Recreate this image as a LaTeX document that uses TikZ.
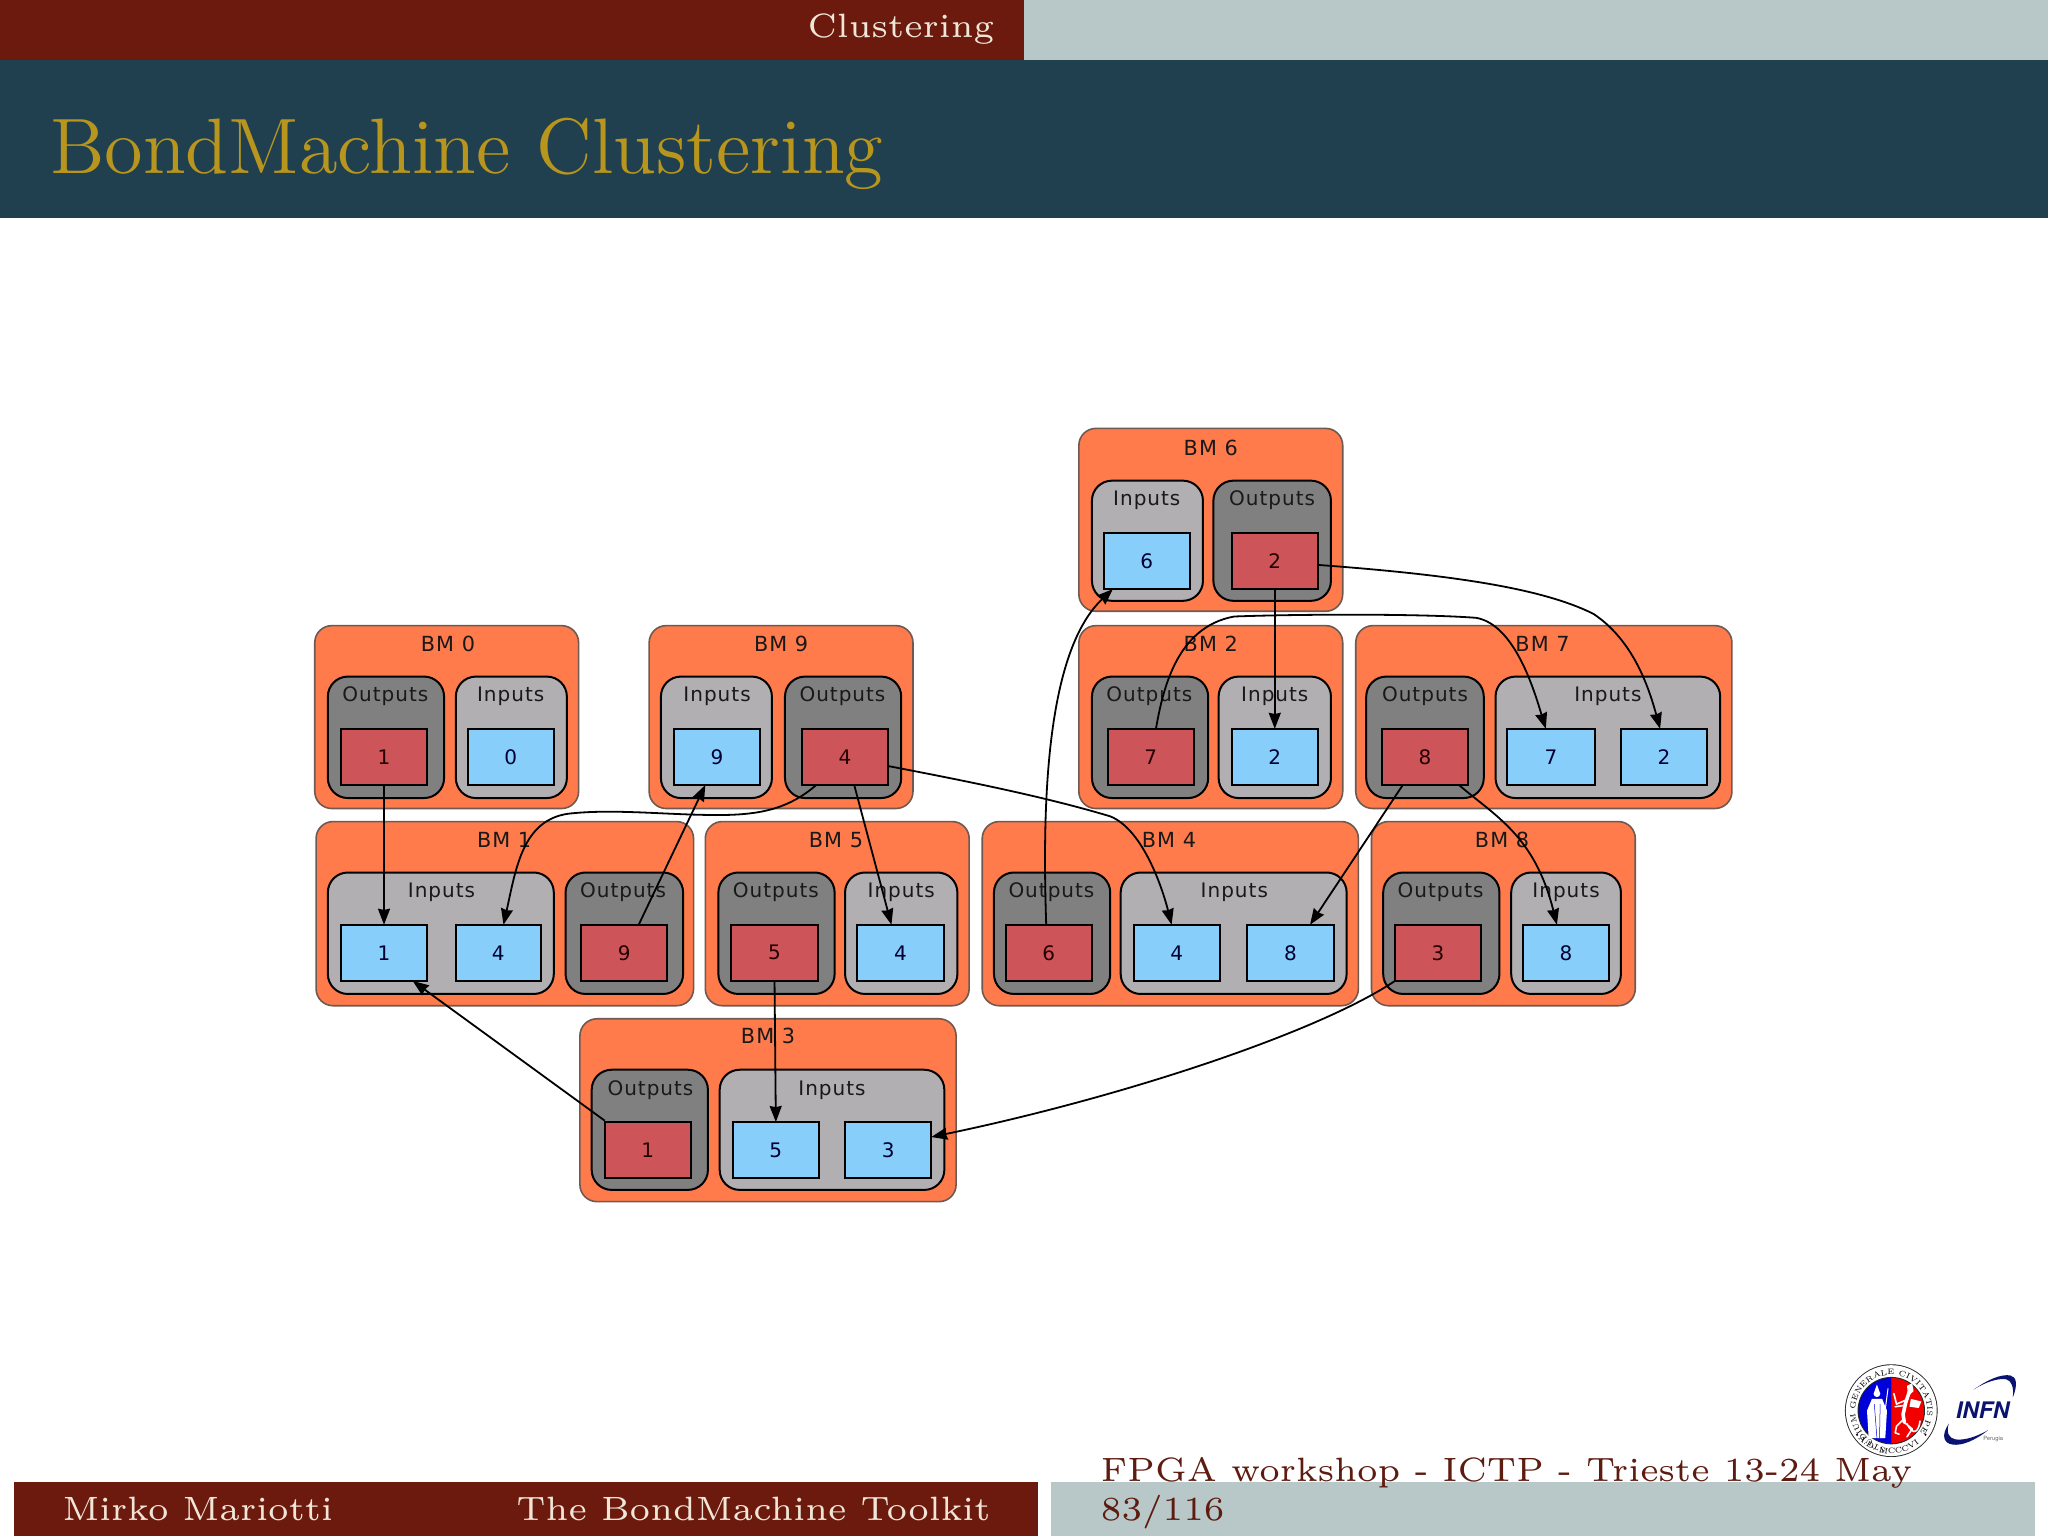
\documentclass[tikz,border=0pt]{standalone}
\usepackage{fontspec}
\usetikzlibrary{arrows.meta,calc,decorations.text}
\newfontfamily\dvs[LetterSpace=5]{DejaVu Sans}
\newfontfamily\dvn{DejaVu Sans}
\newfontfamily\heros{TeX Gyre Heros}
\definecolor{hdred}{HTML}{6D1A0E}
\definecolor{hdgrey}{HTML}{B8C7C8}
\definecolor{band}{HTML}{21404F}
\definecolor{gold}{HTML}{B8961E}
\definecolor{ftext}{HTML}{EFE6D8}
\definecolor{wine}{HTML}{5E1B10}
\definecolor{coralbg}{HTML}{FF7B4B}
\definecolor{coralln}{HTML}{6E5A50}
\definecolor{outp}{HTML}{808080}
\definecolor{inp}{HTML}{B1AFB1}
\definecolor{redbox}{HTML}{CD5458}
\definecolor{bluebox}{HTML}{87CEFA}
\definecolor{navy}{HTML}{0A1470}
\newcommand{\rb}[7]{%
  \pgfmathsetmacro\bxw{(#4-#2)*0.65306}\pgfmathsetmacro\bxh{(#5-#3)*0.65306}%
  \node[#6,minimum width=\bxw pt,minimum height=\bxh pt] (#1) at ({(#2+#4)/2},{(#3+#5)/2}) {#7};}
\tikzset{
  bmgroupbox/.style={draw=coralln,line width=0.8pt,fill=coralbg,rounded corners=8.5pt,inner sep=0pt,outer sep=0pt},
  outpanel/.style={draw=black,line width=1pt,fill=outp,rounded corners=10pt,inner sep=0pt,outer sep=0pt},
  inpanel/.style={draw=black,line width=1pt,fill=inp,rounded corners=10pt,inner sep=0pt,outer sep=0pt},
  rbox/.style={draw=black,line width=1pt,fill=redbox,inner sep=0pt,outer sep=0pt,font=\dvn\fontsize{10}{12}\selectfont,text=black!85!red},
  bbox/.style={draw=black,line width=1pt,fill=bluebox,inner sep=0pt,outer sep=0pt,font=\dvn\fontsize{10}{12}\selectfont,text=black!80!blue},
  bmtitle/.style={font=\dvs\fontsize{10.4}{12}\selectfont,inner sep=0pt,text=black!90},
  pantitle/.style={font=\dvs\fontsize{10}{12}\selectfont,inner sep=0pt,text=black!90},
  edge/.style={draw=black,line width=0.9pt,-{Stealth[length=8pt,width=6pt,inset=0.6pt]}},
  slide/.style={anchor=base west,inner sep=0pt},
  griffin/.style={draw=white,line cap=round,line join=round},
}
\newcommand{\txtp}[4]{\node[pantitle] (#1) at (#2,#3) {#4};}
\begin{document}
\begin{tikzpicture}[x=0.65306pt,y=-0.65306pt]
\useasboundingbox (0,0) rectangle (1568,1176);
\fill[white] (0,0) rectangle (1568,1176);
% header
\fill[hdred] (0,0) rectangle (784,46);
\fill[hdgrey] (784,0) rectangle (1568,46);
\fill[band] (0,46) rectangle (1568,167);
\node[anchor=base east,inner sep=0pt,scale=2.81,text=ftext] (sec) at (762,29) {\fontsize{6}{7}\selectfont Clustering};
\node[slide,scale=2.73,text=gold] (ttl) at (37.5,133) {\fontsize{14.4}{17}\selectfont BondMachine Clustering};
% footer
\fill[hdred] (11,1135) rectangle (795,1176);
\fill[hdgrey] (805,1135) rectangle (1558,1176);
\node[slide,scale=2.81,text=ftext] (auth) at (47,1164) {\fontsize{6}{7}\selectfont Mirko Mariotti};
\node[slide,scale=2.81,text=ftext] (tool) at (394.5,1164) {\fontsize{6}{7}\selectfont The BondMachine Toolkit};
\node[slide,scale=2.81,text=wine] (conf) at (842,1134) {\fontsize{6}{7}\selectfont FPGA workshop - ICTP - Trieste 13-24 May};
\node[slide,scale=2.81,text=wine] (page) at (842,1164) {\fontsize{6}{7}\selectfont 83/116};
% groups
\rb{g6}{826}{328}{1028}{468}{bmgroupbox}{}\node[bmtitle] (g6t) at (927,343) {BM 6};
\rb{g2}{826}{479}{1028}{619}{bmgroupbox}{}\node[bmtitle] (g2t) at (927,493) {BM 2};
\rb{g7}{1038}{479}{1326}{619}{bmgroupbox}{}\node[bmtitle] (g7t) at (1181,493) {BM 7};
\rb{g0}{241}{479}{443}{619}{bmgroupbox}{}\node[bmtitle] (g0t) at (343,493) {BM 0};
\rb{g9}{497}{479}{699}{619}{bmgroupbox}{}\node[bmtitle] (g9t) at (598,493) {BM 9};
\rb{g1}{242}{629}{531}{770}{bmgroupbox}{}\node[bmtitle] (g1t) at (386,643) {BM 1};
\rb{g5}{540}{629}{742}{770}{bmgroupbox}{}\node[bmtitle] (g5t) at (640,643) {BM 5};
\rb{g4}{752}{629}{1040}{770}{bmgroupbox}{}\node[bmtitle] (g4t) at (895,643) {BM 4};
\rb{g8}{1050}{629}{1252}{770}{bmgroupbox}{}\node[bmtitle] (g8t) at (1150,643) {BM 8};
\rb{g3}{444}{780}{732}{920}{bmgroupbox}{}\node[bmtitle] (g3t) at (588,793) {BM 3};
% panels
\rb{p6i}{836}{368}{921}{460}{inpanel}{}\txtp{p6it}{878}{383}{Inputs}
\rb{p6o}{929}{368}{1019}{460}{outpanel}{}\txtp{p6ot}{974}{383}{Outputs}
\rb{p2o}{836}{518}{925}{611}{outpanel}{}\txtp{p2ot}{880}{533}{Outputs}
\rb{p2i}{933}{518}{1019}{611}{inpanel}{}\txtp{p2it}{976}{533}{Inputs}
\rb{p7o}{1046}{518}{1136}{611}{outpanel}{}\txtp{p7ot}{1091}{533}{Outputs}
\rb{p7i}{1145}{518}{1317}{611}{inpanel}{}\txtp{p7it}{1231}{533}{Inputs}
\rb{p0o}{251}{518}{340}{611}{outpanel}{}\txtp{p0ot}{295}{533}{Outputs}
\rb{p0i}{349}{518}{434}{611}{inpanel}{}\txtp{p0it}{391}{533}{Inputs}
\rb{p9i}{506}{518}{591}{611}{inpanel}{}\txtp{p9it}{549}{533}{Inputs}
\rb{p9o}{601}{518}{690}{611}{outpanel}{}\txtp{p9ot}{645}{533}{Outputs}
\rb{p1i}{251}{668}{424}{761}{inpanel}{}\txtp{p1it}{338}{683}{Inputs}
\rb{p1o}{433}{668}{523}{761}{outpanel}{}\txtp{p1ot}{477}{683}{Outputs}
\rb{p5o}{550}{668}{639}{761}{outpanel}{}\txtp{p5ot}{594}{683}{Outputs}
\rb{p5i}{647}{668}{733}{761}{inpanel}{}\txtp{p5it}{690}{683}{Inputs}
\rb{p4o}{761}{668}{850}{761}{outpanel}{}\txtp{p4ot}{805}{683}{Outputs}
\rb{p4i}{858}{668}{1031}{761}{inpanel}{}\txtp{p4it}{945}{683}{Inputs}
\rb{p8o}{1059}{668}{1148}{761}{outpanel}{}\txtp{p8ot}{1103}{683}{Outputs}
\rb{p8i}{1157}{668}{1241}{761}{inpanel}{}\txtp{p8it}{1199}{683}{Inputs}
\rb{p3o}{453}{819}{542}{911}{outpanel}{}\txtp{p3ot}{498}{835}{Outputs}
\rb{p3i}{551}{819}{723}{911}{inpanel}{}\txtp{p3it}{637}{835}{Inputs}
% ports
\rb{i6}{845}{408}{911}{451}{bbox}{6}
\rb{o6}{943}{408}{1009}{451}{rbox}{2}
\rb{o2}{848}{558}{914}{601}{rbox}{7}
\rb{i2}{943}{558}{1009}{601}{bbox}{2}
\rb{o7}{1058}{558}{1124}{601}{rbox}{8}
\rb{i7a}{1154}{558}{1221}{601}{bbox}{7}
\rb{i7b}{1241}{558}{1307}{601}{bbox}{2}
\rb{o0}{261}{558}{327}{601}{rbox}{1}
\rb{i0}{358}{558}{424}{601}{bbox}{0}
\rb{i9}{516}{558}{582}{601}{bbox}{9}
\rb{o9}{614}{558}{680}{601}{rbox}{4}
\rb{i1a}{261}{708}{327}{751}{bbox}{1}
\rb{i1b}{349}{708}{414}{751}{bbox}{4}
\rb{o1}{445}{708}{511}{751}{rbox}{9}
\rb{o5}{560}{708}{626}{751}{rbox}{5}
\rb{i5}{656}{708}{723}{751}{bbox}{4}
\rb{o4}{770}{708}{836}{751}{rbox}{6}
\rb{i4a}{868}{708}{934}{751}{bbox}{4}
\rb{i4b}{955}{708}{1021}{751}{bbox}{8}
\rb{o8}{1068}{708}{1134}{751}{rbox}{3}
\rb{i8}{1166}{708}{1232}{751}{bbox}{8}
\rb{o3}{463}{859}{529}{902}{rbox}{1}
\rb{i3a}{561}{859}{627}{902}{bbox}{5}
\rb{i3b}{647}{859}{713}{902}{bbox}{3}
% connectors
\draw[edge] (o0.south) -- (i1a.north);
\draw[edge] ($(o9.south)+(-22,0)$) .. controls (605,618) and (585,624) .. (550,624) .. controls (510,624) and (470,619) .. (435,623) .. controls (400,628) and (395,665) .. ($(i1b.north)+(4,0)$);
\draw[edge] ($(o1.north)+(11,0)$) -- ($(i9.south)+(-9,0)$);
\draw[edge] ($(o9.east)+(0,7)$) .. controls (740,598) and (800,610) .. (850,625) .. controls (875,635) and (890,680) .. ($(i4a.north)+(-4,0)$);
\draw[edge] ($(o9.south)+(7,0)$) -- ($(i5.north)+(-7,0)$);
\draw[edge] (o5.south) -- (i3a.north);
\draw[edge] ($(o3.north west)+(0,-1)$) -- ($(i1a.south east)+(-11,0)$);
\draw[edge] (o8.south west) .. controls (1010,790) and (860,840) .. ($(i3b.east)+(0,-10)$);
\draw[edge] ($(o4.north)+(-2,0)$) .. controls (798,620) and (800,500) .. ($(i6.south)+(-26,0)$);
\draw[edge] ($(o6.east)+(0,3)$) .. controls (1110,440) and (1180,450) .. (1220,470) .. controls (1250,490) and (1262,525) .. ($(i7b.north)+(-3,0)$);
\draw[edge] (o6.south) -- (i2.north);
\draw[edge] ($(o2.north)+(4,0)$) .. controls (890,530) and (900,480) .. (945,472) .. controls (1000,470) and (1090,470) .. (1130,473) .. controls (1160,478) and (1175,530) .. ($(i7a.north)+(-4,0)$);
\draw[edge] ($(o7.south)+(-17,0)$) -- ($(i4b.north)+(15,0)$);
\draw[edge] ($(o7.south)+(26,0)$) .. controls (1145,625) and (1175,640) .. ($(i8.north)+(-7,0)$);
% seal
\begin{scope}[shift={(1448,1080)},y=0.65306pt]
\fill[black!85] (0,0) circle (35.5);
\fill[white] (0,0) circle (34.8);
\fill[black!85] (0,0) circle (25.8);
\fill[blue!85!black] (90:25) arc[start angle=90,end angle=270,radius=25] -- cycle;
\fill[red!95!black] (90:25) arc[start angle=90,end angle=-90,radius=25] -- cycle;
\begin{scope}[y=-0.65306pt]
\fill[white] (-14.8,-9) -- (-7,-9) -- (-3.3,0) -- (-4.6,21) -- (-17.3,21) -- (-18.6,0) -- cycle;
\fill[white] (-11,-13) circle (2.6);
\fill[white] (-12.8,-15) -- (-9.2,-15) -- (-11,-20) -- cycle;
\draw[blue!85!black,line width=0.25pt] (-13,-5) -- (-11,21) (-8.5,-5) -- (-9,21);
\draw[white,line width=0.5pt] (-2.5,-17) -- (-7.5,21);
\fill[white] (15,-9) -- (23,-7) -- (21,-2) -- (14,-3) -- cycle;
\draw[griffin,line width=1.8pt] (14,-15) -- (11,-6) -- (9,3) -- (10,9);
\fill[white] (12,-19) -- (16,-21) -- (17,-15) -- (13,-11) -- cycle;
\draw[griffin,line width=0.8pt] (11,-8) -- (4,-5) -- (2,-13) (10,-4) -- (3,-3) (10,9) -- (16,14) -- (12,20) (9,7) -- (4,12) -- (3,17) -- (6,18) (12,10) .. controls (17,20) and (21,16) .. (22,8);
\end{scope}
\path[decorate,decoration={text along path,text align=center,text={|\fontsize{3.9}{4.4}\selectfont\rmfamily|STUDIUM GENERALE CIVITATIS PERUSII}}] (212:27.5) arc[start angle=212,end angle=-32,radius=27.5];
\path[decorate,decoration={text along path,text align=center,text={|\fontsize{3.9}{4.4}\selectfont\rmfamily|A.D. MCCCVIII}}] (232:33) arc[start angle=232,end angle=308,radius=33];
\fill[black] (-26.2,-18.5) circle (0.9) (26.2,-18.5) circle (0.9);
\end{scope}
% INFN
\fill[navy] (1511,1064) .. controls (1522,1056) and (1532,1052) .. (1539,1053) .. controls (1544,1054) and (1545,1060) .. (1541,1070) .. controls (1542,1062) and (1540,1057) .. (1536,1056) .. controls (1530,1055) and (1520,1058) .. (1511,1064) -- cycle;
\fill[navy] (1522,1095) .. controls (1512,1103) and (1502,1107) .. (1495,1106) .. controls (1488,1105) and (1486,1099) .. (1492,1090) .. controls (1490,1097) and (1492,1101) .. (1497,1102) .. controls (1504,1103) and (1513,1100) .. (1522,1095) -- cycle;
\node[inner sep=0pt,text=navy,font=\heros\bfseries\itshape\fontsize{11.4}{12}\selectfont] (infn) at (1518,1080) {INFN};
\node[inner sep=0pt,text=black!60,font=\heros\fontsize{2.9}{3}\selectfont] (perugia) at (1526,1102) {Perugia};
\end{tikzpicture}
\end{document}
